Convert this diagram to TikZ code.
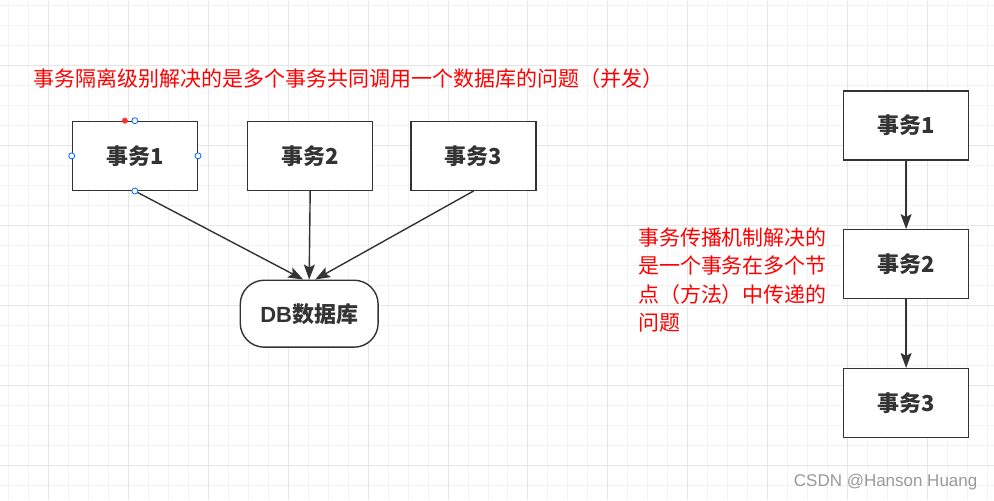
\documentclass[tikz,border=0pt]{standalone}
\usepackage{fontspec}
\setmainfont{Liberation Sans}
\newfontfamily\cjk{Noto Sans CJK SC}
\usetikzlibrary{arrows.meta}
\definecolor{linegray}{HTML}{333333}
\definecolor{gridminor}{HTML}{F3F3F3}
\definecolor{gridmajor}{HTML}{E6E6E6}
\definecolor{notered}{HTML}{FF0000}
\tikzset{
  task/.style={draw=linegray,line width=1.4pt,fill=white,minimum width=125pt,
    minimum height=69pt,inner sep=0pt,font=\cjk\bfseries\fontsize{22}{24}\selectfont,text=linegray},
  dbbox/.style={task,minimum width=138pt,minimum height=67pt,rounded corners=24pt},
  flow/.style={draw=linegray,line width=1.4pt,-{Stealth[length=15pt,width=11pt,inset=3pt]}},
  note/.style={text=notered,font=\cjk\fontsize{21}{28.5}\selectfont,inner sep=0pt},
  handle/.style={circle,draw=blue!60!cyan,fill=white,line width=0.8pt,minimum size=6pt,inner sep=0pt}
}
\begin{document}
\begin{tikzpicture}[x=1pt,y=-1pt]
  \fill[white](0,0)rectangle(994,500);
  % grid
  \foreach \gx in {8,28,...,988} \draw[gridminor,line width=1pt](\gx,0)--(\gx,500);
  \foreach \gy in {5,25,...,485} \draw[gridminor,line width=1pt](0,\gy)--(994,\gy);
  \foreach \gx in {48,128,...,988} \draw[gridmajor,line width=1pt](\gx,0)--(\gx,500);
  \foreach \gy in {65,145,...,465} \draw[gridmajor,line width=1pt](0,\gy)--(994,\gy);
  % left: isolation level
  \node[note,anchor=west](isotext) at (33,78) {事务隔离级别解决的是多个事务共同调用一个数据库的问题（并发）};
  \node[task](ta) at (134.5,155.5) {事务1};
  \node[task](tb) at (310,155.5) {事务2};
  \node[task](tc) at (473.5,155.5) {事务3};
  \node[dbbox](db) at (309,313.5) {{\rmfamily\bfseries DB}数据库};
  \draw[flow](ta.south)--([xshift=-6pt]db.north);
  \draw[flow](tb.south)--(db.north);
  \draw[flow](tc.south)--([xshift=6pt]db.north);
  % selection handles
  \fill[red!80](ta.north)++(-10,0)circle(3pt);
  \foreach \side in {north,south,east,west} \node[handle] at (ta.\side) {};
  % right: propagation
  \node[task](pa) at (906.5,125) {事务1};
  \node[task](pb) at (906.5,264) {事务2};
  \node[task](pc) at (906.5,403) {事务3};
  \draw[flow](pa)--(pb);
  \draw[flow](pb)--(pc);
  \node[note,anchor=north west,align=left](proptext) at (638,227) {事务传播机制解决的\\是一个事务在多个节\\点（方法）中传递的\\问题};
  % watermark
  \node[anchor=east,text=gray!80,font=\fontsize{17}{19}\selectfont,inner sep=0pt](mark) at (978,482) {CSDN @Hanson Huang};
\end{tikzpicture}
\end{document}
